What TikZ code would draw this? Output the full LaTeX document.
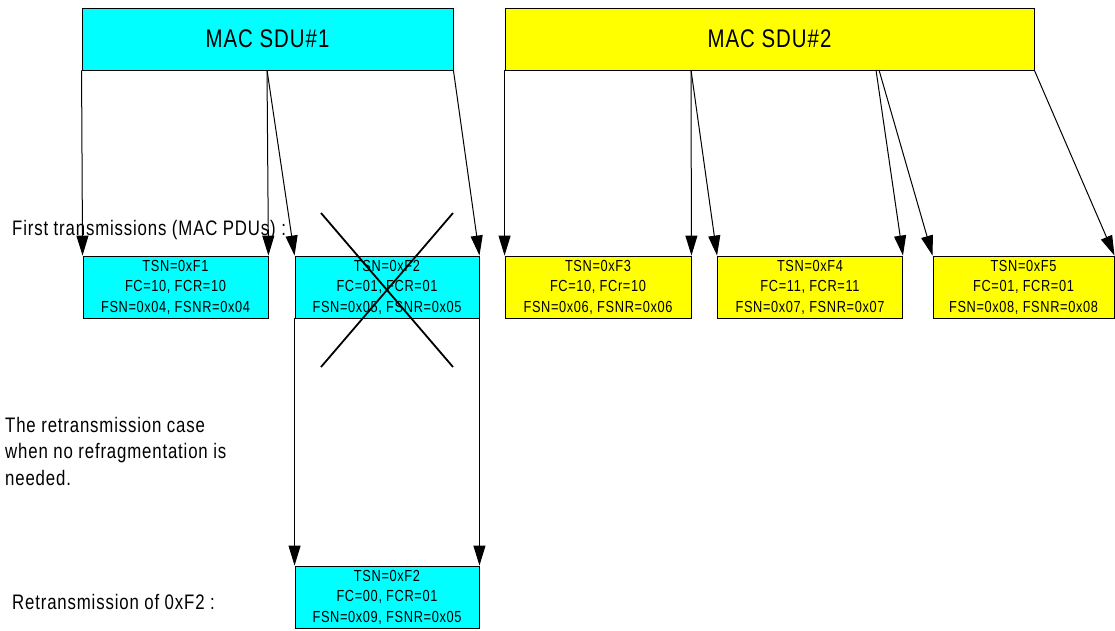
\documentclass[tikz,border=0pt]{standalone}
\usepackage{fontspec}
\usetikzlibrary{arrows.meta}
\newfontfamily\nar[FakeStretch=0.8,LetterSpace=4]{Liberation Sans}
\begin{document}
\begin{tikzpicture}[x=1pt,y=-1pt,
  box/.style={draw=black,line width=0.9pt,inner sep=0pt,align=center,
    font=\nar\fontsize{16}{20.5}\selectfont},
  sdubox/.style={draw=black,line width=0.9pt,inner sep=0pt,
    font=\nar\fontsize{25.5}{30}\selectfont,minimum height=62pt},
  pdu/.style={box,minimum width=185pt,minimum height=62pt},
  arr/.style={-{Triangle[length=20pt,width=12pt]},line width=1pt,draw=black},
  lbl/.style={anchor=west,inner sep=0pt,align=left,
    font=\nar\fontsize{21}{26.5}\selectfont},
  cross/.style={line width=1.8pt,draw=black}]
\useasboundingbox (0,0) rectangle (1115,630);
\definecolor{cy}{RGB}{0,255,255}
\definecolor{ye}{RGB}{255,255,0}

\node[sdubox,fill=cy,minimum width=371pt] (sdu1) at (267.5,39) {MAC SDU\#1};
\node[sdubox,fill=ye,minimum width=529pt] (sdu2) at (769.5,39) {MAC SDU\#2};

\node[pdu,fill=cy] (f1) at (175.5,287) {TSN=0xF1\\FC=10, FCR=10\\FSN=0x04, FSNR=0x04};
\node[pdu,fill=cy,minimum width=184pt] (f2) at (387,287) {TSN=0xF2\\FC=01, FCR=01\\FSN=0x05, FSNR=0x05};
\node[pdu,fill=ye,minimum width=186pt] (f3) at (598,287) {TSN=0xF3\\FC=10, FCr=10\\FSN=0x06, FSNR=0x06};
\node[pdu,fill=ye] (f4) at (810,287) {TSN=0xF4\\FC=11, FCR=11\\FSN=0x07, FSNR=0x07};
\node[pdu,fill=ye,minimum width=181pt] (f5) at (1023.5,287) {TSN=0xF5\\FC=01, FCR=01\\FSN=0x08, FSNR=0x08};
\node[pdu,fill=cy,minimum width=184pt] (r2) at (387,597) {TSN=0xF2\\FC=00, FCR=01\\FSN=0x09, FSNR=0x05};

\coordinate (s1m) at (267,70);
\coordinate (s2m) at (691,70);
\coordinate (s2a) at (876,70);
\coordinate (s2b) at (879,70);

\draw[arr] (sdu1.south west) -- (f1.north west);
\draw[arr] (s1m) -- (f1.north east);
\draw[arr] (s1m) -- (f2.north west);
\draw[arr] (sdu1.south east) -- (f2.north east);

\draw[arr] (sdu2.south west) -- (f3.north west);
\draw[arr] (s2m) -- (f3.north east);
\draw[arr] (s2m) -- (f4.north west);
\draw[arr] (s2a) -- (f4.north east);
\draw[arr] (s2b) -- (f5.north west);
\draw[arr] (sdu2.south east) -- (f5.north east);

\draw[arr] (f2.south west) -- (r2.north west);
\draw[arr] (f2.south east) -- (r2.north east);

\coordinate (xa) at (321,213);
\coordinate (xb) at (453,367);
\coordinate (xc) at (453,213);
\coordinate (xd) at (321,367);
\draw[cross] (xa) -- (xb);
\draw[cross] (xc) -- (xd);

\node[lbl] (t1) at (12,230) {First transmissions (MAC PDUs) :};
\node[lbl] (t2) at (5,451) {The retransmission case\\when no refragmentation is\\needed.};
\node[lbl] (t3) at (12,602) {Retransmission of 0xF2 :};
\end{tikzpicture}
\end{document}
